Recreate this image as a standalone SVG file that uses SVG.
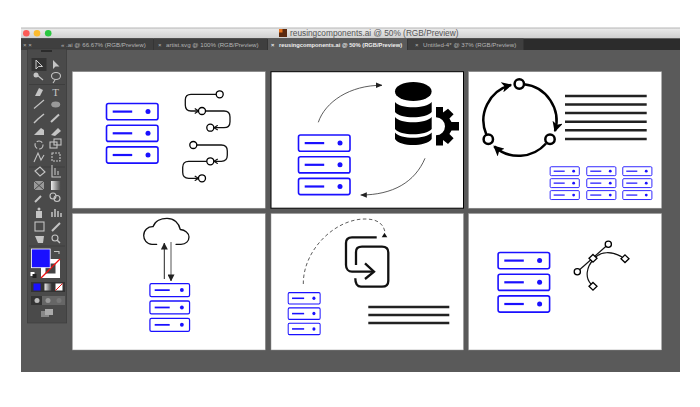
<svg xmlns="http://www.w3.org/2000/svg" width="700" height="407" viewBox="0 0 700 407">
<style>
.panel{fill:#fff;stroke:#8f8f8f;stroke-width:.5}
.tab{font-family:"Liberation Sans",Arial,sans-serif;font-size:6.15px;fill:#b4b4b4}
.tabon{font-family:"Liberation Sans",Arial,sans-serif;font-size:5.75px;font-weight:bold;fill:#eee}
.thin{fill:none;stroke:#111;stroke-width:1.3;stroke-linecap:round}
.fine{fill:none;stroke:#333;stroke-width:.8}
.bar{stroke:#222;stroke-width:2.4;fill:none}
.ring{fill:none;stroke:#000;stroke-width:2.5}
.dotw{fill:#fff;stroke:#000;stroke-width:1.3}
.tool{fill:#c4c4c4;stroke:none}
.tl{fill:none;stroke:#c4c4c4;stroke-width:1.1}
</style>
<defs>
<linearGradient id="titleGrad" x1="0" y1="0" x2="0" y2="1"><stop offset="0" stop-color="#ececec"/><stop offset="1" stop-color="#cfcfcf"/></linearGradient>
<linearGradient id="gradSw" x1="0" y1="0" x2="1" y2="0"><stop offset="0" stop-color="#eee"/><stop offset="1" stop-color="#444"/></linearGradient>
<marker id="chev" viewBox="0 0 8 8" refX="7" refY="4" markerWidth="6" markerHeight="6" markerUnits="userSpaceOnUse" orient="auto"><path d="M2 .8L7 4L2 7.2" fill="none" stroke="#111" stroke-width="1.6"/></marker>
<marker id="tri" viewBox="0 0 8 8" refX="7.5" refY="4" markerWidth="6.500" markerHeight="6.500" markerUnits="userSpaceOnUse" orient="auto"><path d="M0 .5L8 4L0 7.5Z" fill="#222"/></marker>
<marker id="triBig" viewBox="0 0 8 8" refX="7.5" refY="4" markerWidth="7" markerHeight="7" markerUnits="userSpaceOnUse" orient="auto"><path d="M0 0L8 4L0 8Z" fill="#222"/></marker>
<marker id="ringHead" viewBox="0 0 8 8" refX="7" refY="4" markerWidth="10.500" markerHeight="10.500" markerUnits="userSpaceOnUse" orient="auto"><path d="M0 0L8 4L0 8L2 4Z" fill="#000"/></marker>
<g id="srv"><rect x=".8" y=".8" width="51.500" height="16.200" rx="2" fill="#fff" stroke="#1a10ff" stroke-width="1.600"/><path d="M7 8.900H26.500" stroke="#1a10ff" stroke-width="2.200"/><circle cx="42.300" cy="8.900" r="2.500" fill="#1a10ff"/></g>
<g id="stack"><use href="#srv"/><use href="#srv" y="21.700"/><use href="#srv" y="43.400"/></g>
</defs>

<g id="window">
<rect x="21" y="28" width="659" height="344" fill="#5a5a5a"/>
<rect x="21" y="28" width="659" height="10.500" fill="url(#titleGrad)"/>
<path d="M21 28H680" stroke="#a5a5a5" stroke-width=".8"/>
<circle cx="26.300" cy="33.300" r="3.300" fill="#fc5b57"/><circle cx="37" cy="33.300" r="3.300" fill="#fdbb2e"/><circle cx="48.200" cy="33.300" r="3.300" fill="#29c73f"/>
<rect x="279" y="29" width="8" height="8" fill="#5a2a10"/><rect x="279" y="29" width="3.500" height="3.500" fill="#e8731c"/>
<text x="290" y="36" font-family="'Liberation Sans',Arial,sans-serif" font-size="8.300" fill="#555">reusingcomponents.ai @ 50% (RGB/Preview)</text>
<rect x="21" y="38.500" width="659" height="11.500" fill="#2c2c2c"/>
<rect x="21" y="38.500" width="132" height="11.500" fill="#3f3f3f"/>
<rect x="153.500" y="38.500" width="114" height="11.500" fill="#3f3f3f"/>
<rect x="268" y="38.500" width="139" height="11.500" fill="#5a5a5a"/>
<rect x="407.500" y="38.500" width="116" height="11.500" fill="#3f3f3f"/>
<text class="tab" x="23" y="47">× ×</text>
<text class="tab" x="61" y="47">« .ai @ 66.67% (RGB/Preview)</text>
<text class="tab" x="158" y="47">×</text>
<text class="tab" x="166" y="47">artist.svg @ 100% (RGB/Preview)</text>
<text class="tabon" x="271" y="47">×</text>
<text class="tabon" x="279" y="47">reusingcomponents.ai @ 50% (RGB/Preview)</text>
<text class="tab" x="415" y="47">×</text>
<text class="tab" x="423" y="47">Untitled-4* @ 37% (RGB/Preview)</text>
</g>

<g id="toolbar">
<rect x="27.300" y="49" width="39.400" height="274" fill="#4a4a4a" stroke="#3a3a3a" stroke-width=".6"/>
<path d="M41 51H52" stroke="#222" stroke-width="1.500"/>
<rect x="31.500" y="58" width="15" height="13" fill="#333"/>
<path d="M36 60V69L38.500 66.500H42.500Z" fill="none" stroke="#ccc"/>
<path d="M53 60V69L55.500 66.500H59.500Z" class="tool"/>
<path d="M37 75L43 80" class="tl"/>
<circle cx="36" cy="75" r="2.500" class="tool"/>
<ellipse cx="56" cy="76" rx="4.500" ry="3.500" class="tl"/><path d="M55 80L53 83" class="tl"/>
<path d="M29 84.500H65M29 167H65M29 246H65" stroke="#3a3a3a" stroke-width=".7"/>
<path d="M35 96L39 88L43 90L40 96Z" class="tool"/>
<text x="55.700" y="95.500" text-anchor="middle" font-family="'Liberation Serif',serif" font-size="11" fill="#c4c4c4">T</text>
<path d="M34 108.500L44 100" class="tl"/>
<ellipse cx="55.700" cy="104.500" rx="4.500" ry="3" fill="#999"/>
<path d="M34 123L38 119L44 114" stroke="#c4c4c4" stroke-width="1.500" fill="none"/>
<path d="M51 122L59 114.500" stroke="#c4c4c4" stroke-width="2" fill="none"/>
<path d="M34 135L41 128L44 130V135H36Z" class="tool"/>
<path d="M51 135L58 128L61 131L55 136Z" class="tool"/>
<circle cx="39" cy="145" r="4" class="tl" stroke-dasharray="6 2"/>
<rect x="50" y="142" width="7" height="6" class="tl"/><rect x="54" y="139" width="7" height="6" class="tl"/>
<path d="M34 162L38 153L41 160L44 155" class="tl"/>
<rect x="52" y="153" width="8" height="8" class="tl" stroke-dasharray="2 1"/>
<path d="M35 171L40 167L45 172L40 176Z" class="tl"/>
<path d="M52 165V177H61M55 175V168M58 175V171" class="tl"/>
<rect x="34" y="181" width="10" height="9" fill="#999"/><path d="M34 181L44 190M44 181L34 190" stroke="#4a4a4a"/>
<rect x="51" y="181" width="10" height="9" fill="url(#gradSw)"/>
<path d="M35 202L41 196" stroke="#c4c4c4" stroke-width="2"/>
<circle cx="53" cy="196" r="3" class="tl"/><circle cx="57" cy="198.500" r="3" class="tl"/>
<rect x="36" y="211" width="6" height="7" class="tool"/><circle cx="39" cy="209" r="1.500" class="tool"/>
<path d="M52 217V212M55 217V209M58 217V211M61 217V213" stroke="#c4c4c4" stroke-width="1.500"/>
<rect x="35" y="222" width="9" height="9" class="tl"/>
<path d="M52 231L60 223" stroke="#c4c4c4" stroke-width="2"/>
<path d="M35 236L38 243L43 243L44 236Z" class="tool"/>
<circle cx="55" cy="238" r="3" class="tl"/><path d="M57 240L60 243" stroke="#c4c4c4" stroke-width="1.500"/>
<rect x="41" y="259" width="19" height="19" fill="#fff"/><rect x="45.500" y="263.500" width="10" height="10" fill="#444"/>
<path d="M41 278L60 259" stroke="#f01010" stroke-width="1.300"/>
<rect x="31.500" y="249" width="18.700" height="18.700" fill="#1a10ff" stroke="#fff" stroke-width=".8"/>
<path d="M54 251.500H59V254" class="tl" stroke-width=".8"/>
<rect x="30.500" y="272" width="4" height="4" fill="#fff"/><rect x="32.500" y="274" width="4" height="4" fill="#222"/>
<rect x="31" y="282" width="34" height="10" fill="#333"/>
<rect x="33.500" y="283.500" width="7" height="7" fill="#1a10ff"/>
<rect x="44.500" y="283.500" width="7" height="7" fill="url(#gradSw)"/>
<rect x="55.500" y="283.500" width="7" height="7" fill="#fff"/><path d="M55.500 290.500L62.500 283.500" stroke="#f01010"/>
<rect x="31" y="296" width="34" height="9" fill="#666"/><rect x="31" y="296" width="11" height="9" fill="#333"/>
<circle cx="37" cy="300.500" r="2.500" fill="#bbb"/><circle cx="48" cy="300.500" r="2.500" fill="#999"/><circle cx="59" cy="300.500" r="2.500" fill="#777"/>
<rect x="41" y="311" width="8" height="6" fill="#888"/><rect x="45" y="309" width="8" height="6" fill="#aaa"/>
</g>

<g id="panel-1">
<rect class="panel" x="72.300" y="71.700" width="193" height="136.500"/>
<g id="servers-1"><use href="#stack" x="105.700" y="102.700"/></g>
</g>
<g id="panel-2">
<rect x="271" y="71.700" width="192.500" height="136.500" fill="#fff" stroke="#000" stroke-width="1"/>
<g id="servers-2"><use href="#stack" x="297.700" y="134.200"/></g>
<g id="database" fill="#000">
<ellipse cx="413.300" cy="91.500" rx="18.300" ry="9.500"/>
<path d="M395 102C400 109 426 109 431.700 102V112C426 119 400 119 395 112Z"/>
<path d="M395 117C400 124 426 124 431.700 117V129C426 136 400 136 395 129Z"/>
<path d="M395 132.500C400 139.500 426 139.500 431.700 132.500V139C426 147 400 147 395 139Z"/>
</g>
<path id="gear" fill="#000" d="M436 107H443V112.600L448 108.700L453.600 114.300L449.400 118.500L451.500 122H459V130.600H451.500L449.400 134.100L453.600 138.300L448 143.900L443 140V145.600H436V135.300A9 9 0 0 0 436 117.300Z"/>
</g>
<g id="panel-3">
<rect class="panel" x="468.500" y="71.700" width="193.200" height="136.500"/>
<g id="lines-3" class="bar"><path d="M565 96H646.700M565 104.500H646.700M565 113H646.700M565 121.700H646.700M565 130.300H646.700M565 139H646.700"/></g>
<g id="servers-3a"><use href="#stack" transform="translate(549.700 166.300) scale(.566 .55)"/></g>
<g id="servers-3b"><use href="#stack" transform="translate(586.300 166.300) scale(.566 .55)"/></g>
<g id="servers-3c"><use href="#stack" transform="translate(622.300 166.300) scale(.566 .55)"/></g>
</g>
<g id="panel-4">
<rect class="panel" x="72.300" y="213.500" width="193" height="136.500"/>
<path id="cloud" class="thin" d="M156.700 244.300H152C146.500 244.300 143.700 239.500 143.700 235.500C143.700 230 148 226.500 153 226.700C155 221 161 218.300 167 218.300C174 218.300 179 223 180.300 229.500C185 230 189 233 189 237C189 241 186 244.300 181 244.300H176"/>
<g id="servers-4"><use href="#stack" transform="translate(149.300 283) scale(.77 .8)"/></g>
</g>
<g id="panel-5">
<rect class="panel" x="271" y="213.500" width="192.500" height="136.500"/>
<g id="reuse-icon" fill="none" stroke="#111" stroke-width="2.300">
<path d="M376.700 237.300H352C348 237.300 346 239.500 346 243V265C346 269 348.500 271.700 352 271.700H373"/>
<path d="M365 263.300L374 271.700L365 279"/>
<path d="M356 265V252C356 248.500 358.500 246.700 362 246.700H382C386 246.700 388.300 249 388.300 252.500V281C388.300 284.500 386 286.700 382 286.700H361C357.500 286.700 355.300 284 355.300 278.300"/>
</g>
<g id="lines-5" class="bar"><path d="M368.300 307H449.300M368.300 315H449.300M368.300 323H449.300"/></g>
<g id="servers-5"><use href="#stack" transform="translate(287.700 292) scale(.62 .706)"/></g>
</g>
<g id="panel-6">
<rect class="panel" x="468.500" y="213.500" width="193.200" height="136.500"/>
<g id="servers-6"><use href="#stack" x="497.300" y="251.700"/></g>
<g id="bezier-icon">
<path d="M577.300 271.700L608.300 244.300" stroke="#111" stroke-width="1.200"/>
<path d="M622 257C612 251 600 251 594 259C586 267 585 278 591 284" fill="none" stroke="#111" stroke-width="1.200"/>
<circle class="dotw" cx="608.300" cy="244.300" r="3.100"/>
<circle class="dotw" cx="577.300" cy="271.700" r="3.100"/>
<path class="dotw" d="M593 254.500L597 258.300L593 262.100L589 258.300Z"/>
<path class="dotw" d="M625 254.900L629 258.700L625 262.500L621 258.700Z"/>
<path class="dotw" d="M593 282.500L597 286.300L593 290.100L589 286.300Z"/>
</g>
</g>

<g id="connectors">
<g id="flow-1">
<path class="thin" marker-end="url(#chev)" d="M216 94.300H191Q185.300 94.300 185.300 100V105Q185.300 111 191 111H198.500"/>
<path class="thin" marker-end="url(#chev)" d="M205.500 111H224Q230 111 230 117V121.700Q230 127.700 224 127.700H214"/>
<path class="thin" marker-end="url(#chev)" d="M196.800 145H221.300Q227.300 145 227.300 151V155.300Q227.300 161.300 221.300 161.300H214"/>
<path class="thin" marker-end="url(#chev)" d="M206.800 161.300H188.700Q182.700 161.300 182.700 167.300V172.300Q182.700 178.300 188.700 178.300H198.500"/>
<circle class="dotw" cx="219.700" cy="94.300" r="3.500"/><circle class="dotw" cx="202" cy="111" r="3.500"/><circle class="dotw" cx="210.300" cy="127.700" r="3.500"/>
<circle class="dotw" cx="193.300" cy="145" r="3.500"/><circle class="dotw" cx="210.300" cy="161.300" r="3.500"/><circle class="dotw" cx="202" cy="178.300" r="3.500"/>
</g>
<path class="fine" marker-end="url(#tri)" d="M318.300 122.300C325 102 350 85 382 85.300"/>
<path class="fine" marker-end="url(#tri)" d="M425 158.300C415 182 393 195 360.700 195"/>
<g id="cycle-3">
<path class="ring" marker-end="url(#ringHead)" d="M523.800 84.300A36.500 36.500 0 0 1 555 131"/>
<path class="ring" marker-end="url(#ringHead)" d="M546 143.500A36.500 36.500 0 0 1 494.300 146.500"/>
<path class="ring" marker-end="url(#ringHead)" d="M486.500 135A36.500 36.500 0 0 1 511 85"/>
<circle cx="519.300" cy="84" r="4.700" fill="#fff" stroke="#000" stroke-width="2.500"/>
<circle cx="488.300" cy="139.300" r="4.700" fill="#fff" stroke="#000" stroke-width="2.500"/>
<circle cx="550" cy="139.300" r="4.700" fill="#fff" stroke="#000" stroke-width="2.500"/>
</g>
<path d="M164.300 279V243" stroke="#222" stroke-width="1" marker-end="url(#triBig)"/>
<path d="M171 242V281" stroke="#555" stroke-width="1" marker-end="url(#triBig)"/>
<path d="M303.300 284C303 250 335 219 365 219C375 219 383 222 385 232" fill="none" stroke="#333" stroke-width=".8" stroke-dasharray="3.500 2.500"/>
<path d="M384.500 232.700L381.700 237.300H387.300Z" fill="#111"/>
</g>
</svg>
